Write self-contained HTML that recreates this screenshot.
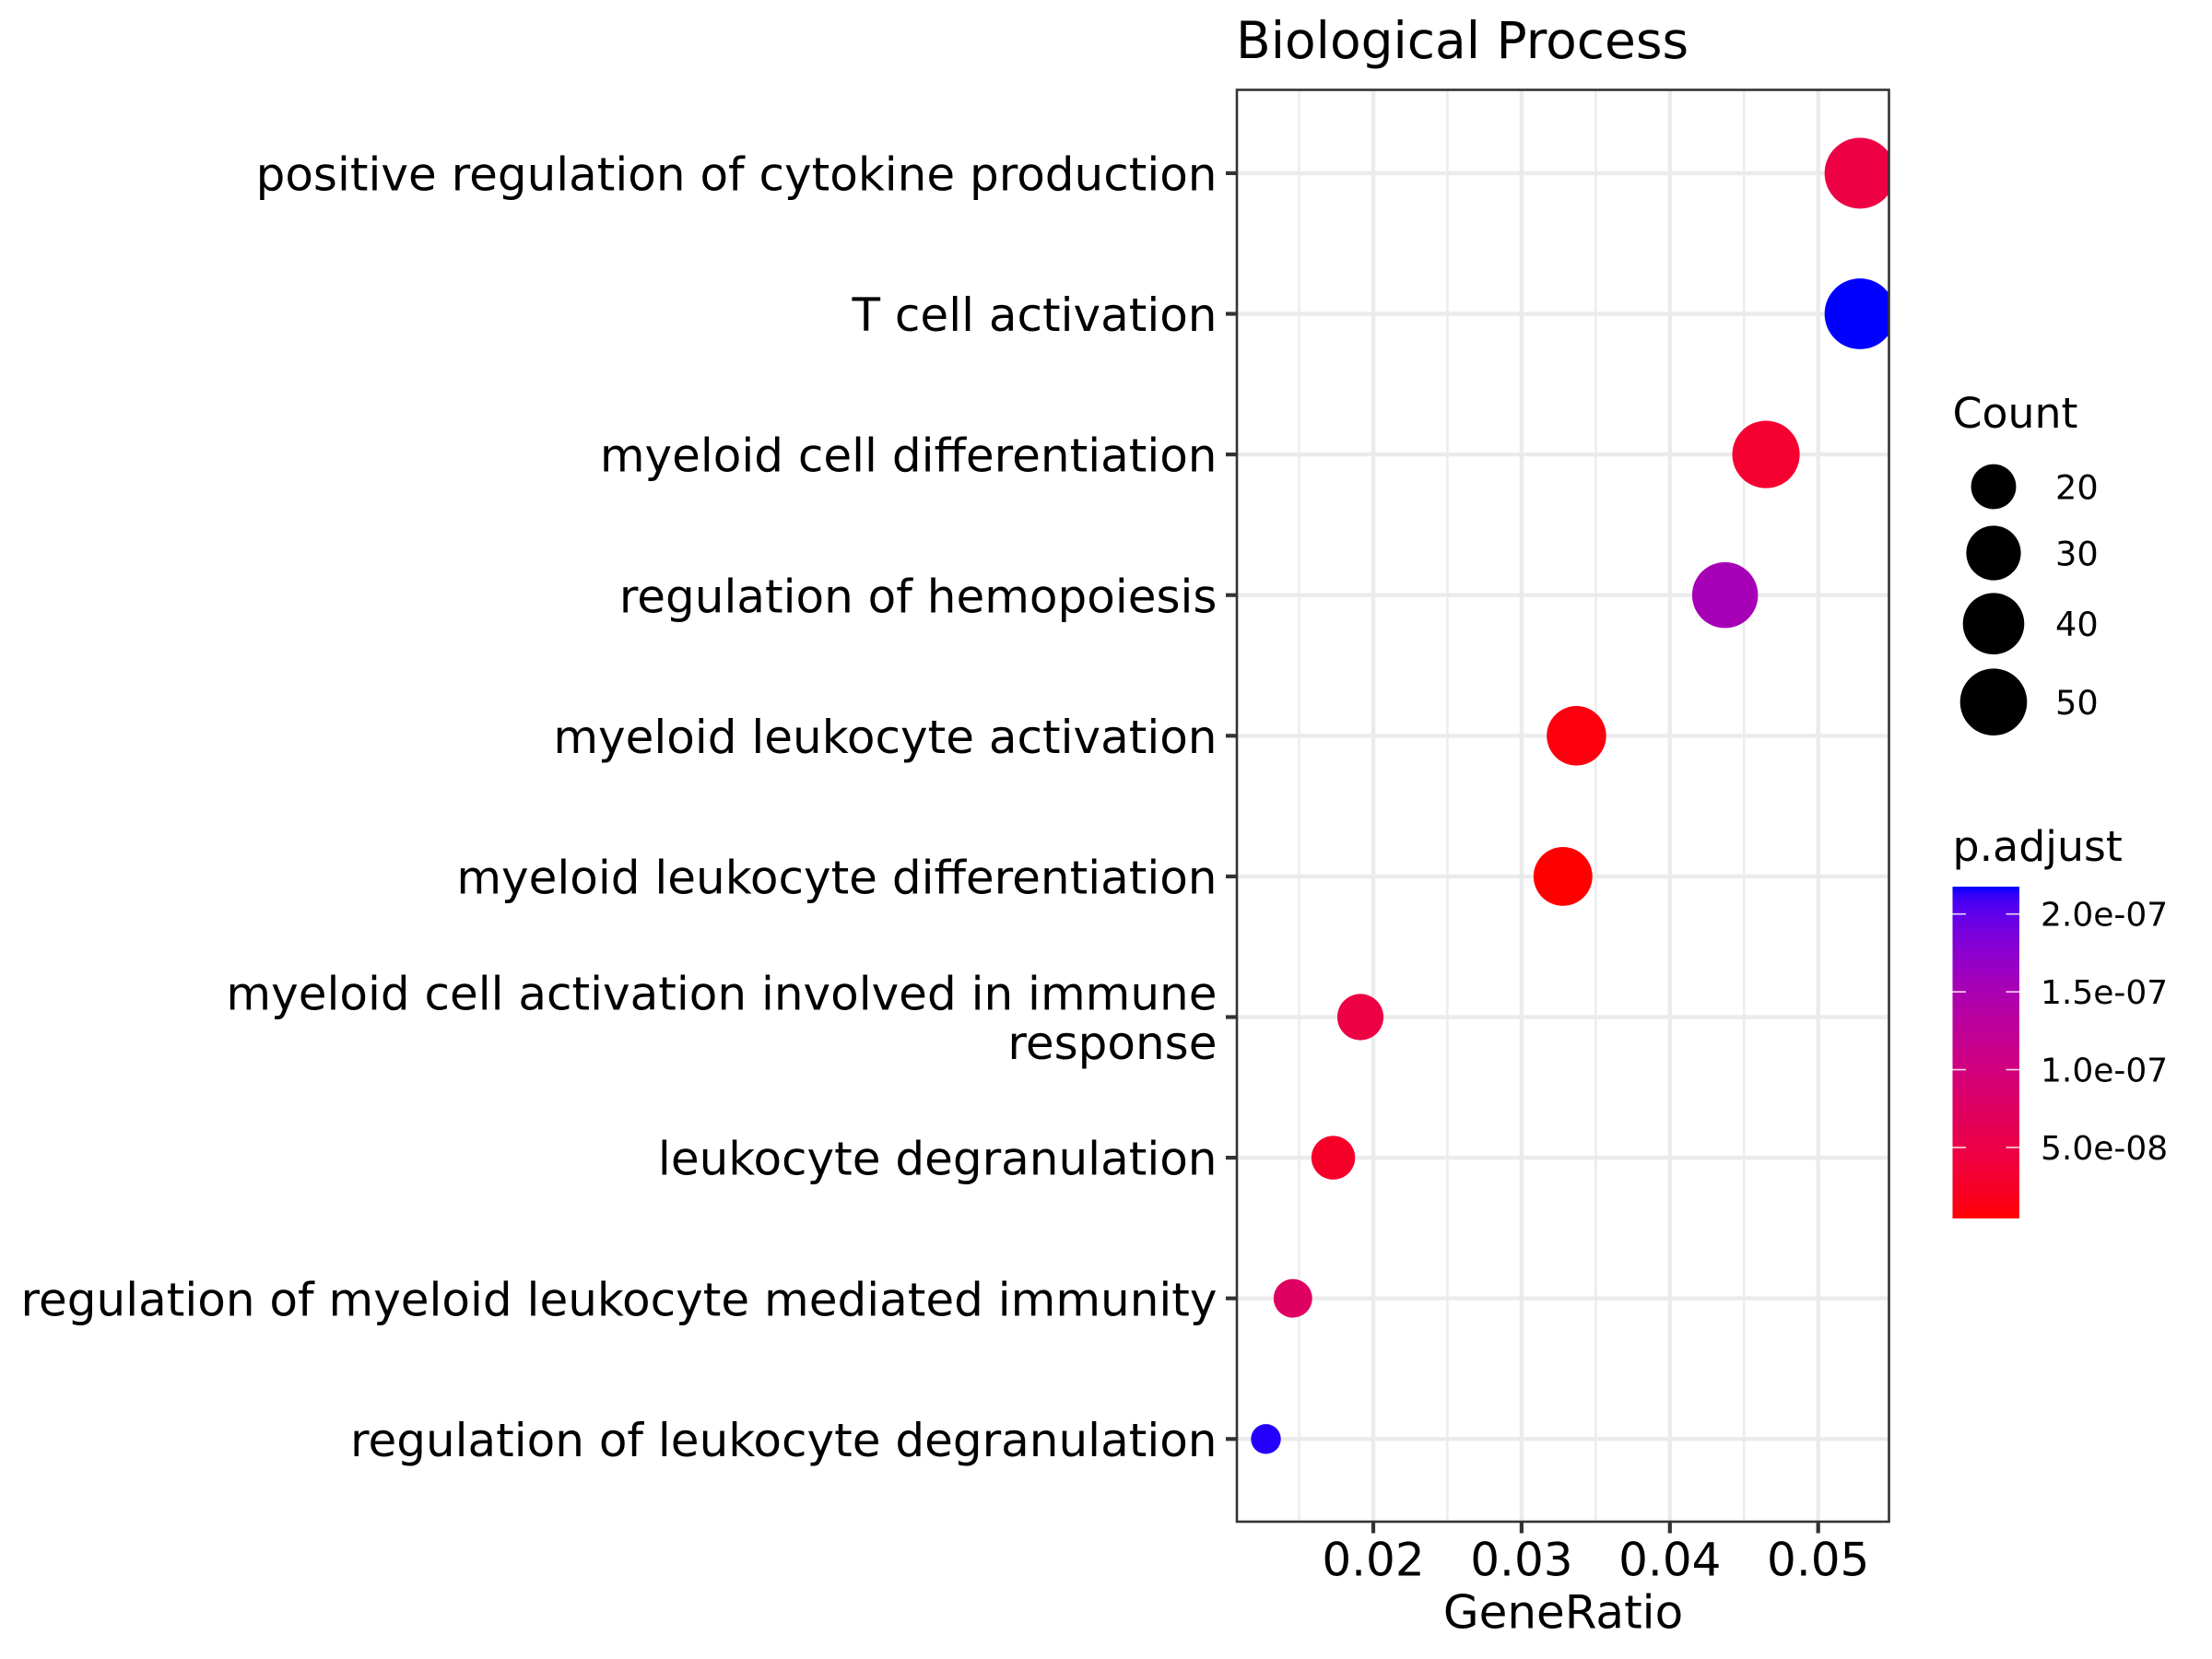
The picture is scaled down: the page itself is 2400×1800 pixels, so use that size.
<!DOCTYPE html>
<html>
<head>
<meta charset="utf-8">
<title>Biological Process dot plot</title>
<style>
html,body{margin:0;padding:0;background:#fff}
svg{display:block}
text{font-family:"DejaVu Sans","Liberation Sans",sans-serif;fill:#000}
</style>
</head>
<body>
<svg id="chart" xmlns="http://www.w3.org/2000/svg" width="2400" height="1800" viewBox="0 0 2400 1800">
<defs>
<clipPath id="panel-clip"><rect x="1342" y="97.5" width="707.5" height="1553.5"/></clipPath>
<linearGradient id="bar-gradient" x1="0" y1="1" x2="0" y2="0"></linearGradient>
</defs>
<rect x="0" y="0" width="2400" height="1800" fill="#fff"/>
<text x="1341" y="63" font-size="55">Biological Process</text>
<g id="grid"></g>
<g id="points" clip-path="url(#panel-clip)"></g>
<rect x="1342" y="97.5" width="707.5" height="1553.5" fill="none" stroke="#333" stroke-width="2.6"/>
<g id="x-axis"></g>
<g id="y-axis"></g>
<text x="1696" y="1766.5" font-size="50" text-anchor="middle">GeneRatio</text>
<g id="size-legend">
<text x="2118.5" y="464" font-size="45.8">Count</text>
</g>
<g id="color-legend">
<text x="2118.5" y="934" font-size="45.8">p.adjust</text>
<rect x="2118.5" y="962" width="72.5" height="360" fill="url(#bar-gradient)"/>
</g>
</svg>
<script>
const categories = [
  "positive regulation of cytokine production",
  "T cell activation",
  "myeloid cell differentiation",
  "regulation of hemopoiesis",
  "myeloid leukocyte activation",
  "myeloid leukocyte differentiation",
  "myeloid cell activation involved in immune\nresponse",
  "leukocyte degranulation",
  "regulation of myeloid leukocyte mediated immunity",
  "regulation of leukocyte degranulation"
];
const geneRatio = [0.05282, 0.05282, 0.04648, 0.04372, 0.03370, 0.03279, 0.01913, 0.01730, 0.01458, 0.01276];
const counts = [58, 58, 51, 48, 37, 36, 21, 19, 16, 14];
const pAdjust = [4.7e-8, 2.176e-7, 3.0e-8, 1.54e-7, 1.0e-8, 4.4e-9, 4.7e-8, 2.6e-8, 7.5e-8, 2.15e-7];
const xMajorTicks = [0.02, 0.03, 0.04, 0.05];
const xMinorTicks = [0.015, 0.025, 0.035, 0.045];
const xTickLabels = ["0.02", "0.03", "0.04", "0.05"];
const countLegendValues = [20, 30, 40, 50];
const pLegendTicks = [2.0e-7, 1.5e-7, 1.0e-7, 5.0e-8];
const pLegendLabels = ["2.0e-07", "1.5e-07", "1.0e-07", "5.0e-08"];

const SVGNS = "http://www.w3.org/2000/svg";
const pMin = 4.4e-9, pMax = 2.176e-7;
const countMin = 14, countMax = 58;

function xScale(v) { return 1490 + (v - 0.02) * 16090; }
function yScale(i) { return 187.9 + i * 152.6; }
function sizeScale(c) {
  const t = Math.max(0, (c - countMin) / (countMax - countMin));
  return 2.9 + 4.44 * (3 + 5 * Math.sqrt(t));
}
function pBarY(p) { return 1322 - (p - pMin) / (pMax - pMin) * 360; }

function srgbToLab(r, g, b) {
  const f = c => { c /= 255; return c <= 0.04045 ? c / 12.92 : Math.pow((c + 0.055) / 1.055, 2.4); };
  const R = f(r), G = f(g), B = f(b);
  const X = (0.4124564 * R + 0.3575761 * G + 0.1804375 * B) / 0.95047;
  const Y = 0.2126729 * R + 0.7151522 * G + 0.0721750 * B;
  const Z = (0.0193339 * R + 0.1191920 * G + 0.9503041 * B) / 1.08883;
  const h = t => t > 0.008856 ? Math.cbrt(t) : 7.787 * t + 16 / 116;
  return [116 * h(Y) - 16, 500 * (h(X) - h(Y)), 200 * (h(Y) - h(Z))];
}
function labToHex(L, a, b) {
  const fy = (L + 16) / 116, fx = a / 500 + fy, fz = fy - b / 200;
  const inv = t => t * t * t > 0.008856 ? t * t * t : (t - 16 / 116) / 7.787;
  const X = inv(fx) * 0.95047, Y = inv(fy), Z = inv(fz) * 1.08883;
  const lin = [
    3.2404542 * X - 1.5371385 * Y - 0.4985314 * Z,
    -0.9692660 * X + 1.8760108 * Y + 0.0415560 * Z,
    0.0556434 * X - 0.2040259 * Y + 1.0572252 * Z
  ];
  return "#" + lin.map(c => {
    c = Math.min(1, Math.max(0, c));
    const s = c <= 0.0031308 ? 12.92 * c : 1.055 * Math.pow(c, 1 / 2.4) - 0.055;
    return Math.round(s * 255).toString(16).padStart(2, "0");
  }).join("");
}
const labLow = srgbToLab(255, 0, 0), labHigh = srgbToLab(0, 0, 255);
function colorAt(t) {
  t = Math.min(1, Math.max(0, t));
  return labToHex(labLow[0] + (labHigh[0] - labLow[0]) * t,
                  labLow[1] + (labHigh[1] - labLow[1]) * t,
                  labLow[2] + (labHigh[2] - labLow[2]) * t);
}
function colorScale(p) { return colorAt((p - pMin) / (pMax - pMin)); }

function make(tag, attrs, parent, content) {
  const el = document.createElementNS(SVGNS, tag);
  for (const k in attrs) el.setAttribute(k, attrs[k]);
  if (content !== undefined) el.textContent = content;
  parent.appendChild(el);
  return el;
}

const grid = document.getElementById("grid");
const pointsG = document.getElementById("points");
const xAxis = document.getElementById("x-axis");
const yAxis = document.getElementById("y-axis");
const sizeLegend = document.getElementById("size-legend");
const colorLegend = document.getElementById("color-legend");
const panelLeft = 1342, panelRight = 2049.5, panelTop = 97.5, panelBottom = 1651;

xMinorTicks.forEach(v => {
  const el = make("line", {x1: xScale(v), x2: xScale(v), y1: panelTop, y2: panelBottom, stroke: "#ebebeb", "stroke-width": 2.3}, grid);
  
  
});
xMajorTicks.forEach((v, i) => {
  const gl = make("line", {x1: xScale(v), x2: xScale(v), y1: panelTop, y2: panelBottom, stroke: "#ebebeb", "stroke-width": 4.4}, grid);
  
  
  const tick = make("line", {x1: xScale(v), x2: xScale(v), y1: panelBottom, y2: panelBottom + 12.5, stroke: "#333", "stroke-width": 4.2}, xAxis);
  
  
  const label = make("text", {x: xScale(v), y: 1709.5, "font-size": 50, "text-anchor": "middle"}, xAxis, xTickLabels[i]);
  
  
});

categories.forEach((name, i) => {
  const y = yScale(i);
  const gl = make("line", {x1: panelLeft, x2: panelRight, y1: y, y2: y, stroke: "#ebebeb", "stroke-width": 4.4}, grid);
  
  
  const tick = make("line", {x1: panelLeft - 12, x2: panelLeft, y1: y, y2: y, stroke: "#333", "stroke-width": 4.2}, yAxis);
  
  
  const lines = name.split("\n");
  const firstOffset = lines.length === 1 ? 18.6 : -8.2;
  lines.forEach((line, j) => {
    const label = make("text", {x: 1320.5, y: y + firstOffset + j * 53.9, "font-size": 50, "text-anchor": "end"}, yAxis, line);
    
    
  });
});

categories.forEach((name, i) => {
  const dot = make("circle", {cx: xScale(geneRatio[i]), cy: yScale(i), r: sizeScale(counts[i]), fill: colorScale(pAdjust[i])}, pointsG);
  
  
});

const countLegendY = [528, 600, 676.7, 761.7];
countLegendValues.forEach((c, i) => {
  const key = make("circle", {cx: 2163, cy: countLegendY[i], r: sizeScale(c), fill: "#000"}, sizeLegend);
  
  
  const label = make("text", {x: 2230, y: countLegendY[i] + 13.4, "font-size": 36.67}, sizeLegend, String(c));
  
  
});

const gradient = document.getElementById("bar-gradient");
for (let s = 0; s <= 40; s++) {
  make("stop", {offset: s / 40, "stop-color": colorAt(s / 40)}, gradient);
}
pLegendTicks.forEach((p, i) => {
  const y = pBarY(p);
  const left = make("line", {x1: 2118.5, x2: 2133, y1: y, y2: y, stroke: "#fff", "stroke-opacity": 0.85, "stroke-width": 1.6}, colorLegend);
  
  
  const right = make("line", {x1: 2176.5, x2: 2191, y1: y, y2: y, stroke: "#fff", "stroke-opacity": 0.85, "stroke-width": 1.6}, colorLegend);
  
  
  const label = make("text", {x: 2214, y: y + 13, "font-size": 36}, colorLegend, pLegendLabels[i]);
  
  
});
</script>
</body>
</html>
